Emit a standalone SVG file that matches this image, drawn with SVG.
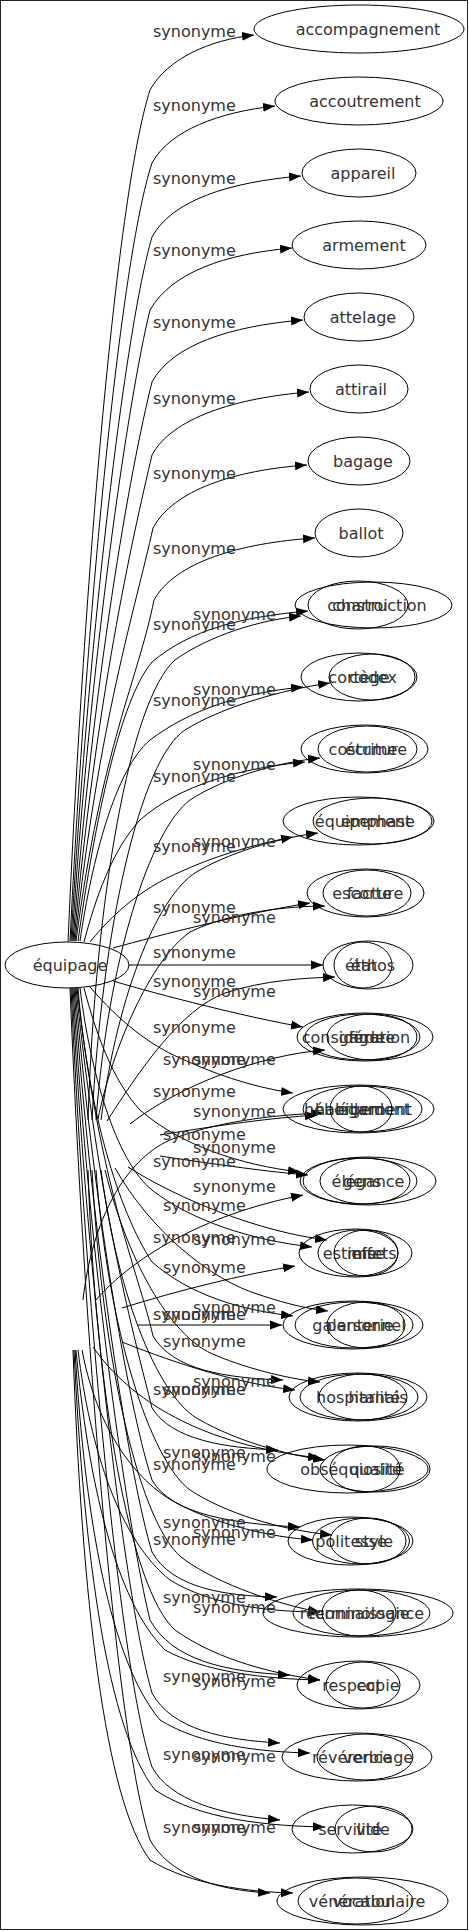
<svg xmlns="http://www.w3.org/2000/svg" width="469" height="1931" viewBox="0 0 469 1931">
<style>
text{font-family:"DejaVu Sans",sans-serif;font-size:16px;fill:#333}
.n ellipse{fill:none;stroke:#000;stroke-width:1}
.n text{text-anchor:middle}
.e path{fill:none;stroke:#000;stroke-width:1;marker-end:url(#a)}
.l text{text-anchor:start}
</style>
<defs>
<marker id="a" markerWidth="13" markerHeight="10" refX="12" refY="5" orient="auto" markerUnits="userSpaceOnUse"><path d="M0,0.5 L12,5 L0,9.5 z" fill="#000"/></marker>
</defs>
<rect x="0" y="0" width="469" height="1931" fill="#fff"/>
<rect x="0.5" y="0.5" width="467" height="1929" fill="none" stroke="#222"/>
<g id="connectors" class="e">
<path d="M68,942 C83,600 115,200 150,90 C168,58 210,40 254,35"/>
<path d="M70,941 C86,620 120,260 152,163 C170,130 220,112 275,106"/>
<path d="M71,941 C88,640 125,330 152,237 C172,200 230,182 301,176"/>
<path d="M72,941 C90,660 128,400 150,310 C172,272 225,254 292,248"/>
<path d="M73,941 C93,680 130,470 152,382 C172,345 230,326 303,320"/>
<path d="M74,941 C96,700 132,540 152,455 C172,418 235,398 309,392"/>
<path d="M75,941 C99,720 135,610 153,528 C173,490 235,470 307,465"/>
<path d="M76,941 C102,745 138,680 154,600 C175,562 240,543 315,538"/>
<path d="M78,941 C95,820 120,700 152,662 C190,630 240,617 308,611"/>
<path d="M80,941 C92,860 115,770 150,740 C190,710 240,693 303,687"/>
<path d="M84,942 C95,900 112,850 140,820 C180,785 240,768 305,762"/>
<path d="M90,942 C120,905 150,885 180,872 C210,858 250,845 293,837"/>
<path d="M113,948 C160,935 250,912 310,903"/>
<path d="M129,965 L323,965"/>
<path d="M113,981 C160,995 250,1018 303,1027"/>
<path d="M90,987 C120,1022 150,1045 180,1058 C210,1072 250,1087 293,1093"/>
<path d="M84,988 C95,1030 112,1080 140,1110 C180,1145 240,1165 300,1172"/>
<path d="M80,988 C90,1070 115,1160 152,1190 C190,1220 250,1240 312,1247"/>
<path d="M78,988 C88,1110 118,1210 152,1262 C190,1295 240,1310 293,1316"/>
<path d="M77,988 C100,1190 138,1270 153,1336 C173,1370 225,1378 283,1380"/>
<path d="M76,988 C99,1210 135,1340 152,1408 C172,1440 225,1448 278,1450"/>
<path d="M75,988 C96,1230 132,1420 152,1480 C172,1515 235,1524 300,1527"/>
<path d="M74,988 C93,1250 130,1480 152,1552 C172,1588 225,1596 277,1597"/>
<path d="M73,988 C90,1270 128,1530 150,1620 C172,1660 225,1672 290,1675"/>
<path d="M72,988 C88,1290 125,1600 152,1693 C172,1730 225,1740 280,1743"/>
<path d="M71,988 C86,1310 120,1670 152,1767 C170,1800 220,1815 280,1820"/>
<path d="M70,988 C84,1330 115,1730 150,1840 C168,1872 210,1890 270,1893"/>
<path d="M83,1300 C92,1220 125,1160 170,1140 C215,1122 270,1115 323,1113"/>
<path d="M95,1301 C130,1260 200,1215 303,1195"/>
<path d="M122,1308 C180,1290 240,1275 295,1266"/>
<path d="M138,1325 L282,1325"/>
<path d="M122,1342 C180,1365 240,1384 295,1390"/>
<path d="M93,1347 C130,1400 200,1445 320,1458"/>
<path d="M82,1350 C95,1420 130,1480 180,1505 C220,1525 270,1537 313,1540"/>
<path d="M78,1350 C90,1450 120,1540 170,1580 C210,1605 270,1612 320,1612"/>
<path d="M76,1350 C88,1480 115,1600 165,1650 C205,1672 265,1679 320,1680"/>
<path d="M75,1350 C85,1520 110,1660 160,1720 C200,1745 260,1752 310,1753"/>
<path d="M74,1350 C84,1560 108,1730 155,1790 C200,1820 270,1826 325,1827"/>
<path d="M73,1350 C82,1600 105,1800 150,1860 C190,1885 250,1892 293,1893"/>
<path d="M88,1120 C95,900 130,700 175,660 C210,635 260,620 301,616"/>
<path d="M92,1120 C102,930 140,760 185,730 C220,708 280,690 330,683"/>
<path d="M96,1120 C108,960 150,830 190,800 C225,777 280,762 320,758"/>
<path d="M101,1120 C118,990 160,890 200,870 C235,850 285,837 318,833"/>
<path d="M98,1119 C112,1050 150,960 190,932 C230,912 290,906 325,906"/>
<path d="M107,1121 C140,1070 180,1010 225,993 C265,980 305,978 335,977"/>
<path d="M130,1124 C180,1085 260,1055 325,1050"/>
<path d="M160,1135 C220,1125 270,1118 317,1115"/>
<path d="M160,1156 C220,1165 270,1172 308,1175"/>
<path d="M128,1167 C180,1200 260,1232 327,1240"/>
<path d="M115,1168 C150,1230 210,1280 260,1295 C290,1305 310,1309 328,1311"/>
<path d="M105,1170 C130,1270 175,1340 215,1355 C250,1370 295,1380 320,1382"/>
<path d="M101,1170 C118,1300 160,1400 200,1420 C235,1440 285,1455 325,1460"/>
<path d="M96,1170 C108,1330 150,1460 190,1490 C225,1513 280,1530 332,1535"/>
<path d="M92,1170 C102,1360 140,1530 185,1560 C220,1585 280,1605 320,1612"/>
<path d="M88,1170 C95,1390 130,1590 175,1630 C210,1655 260,1672 320,1680"/>
</g>
<g id="labels" class="l">
<text x="153" y="37">synonyme</text>
<text x="153" y="111">synonyme</text>
<text x="153" y="184">synonyme</text>
<text x="153" y="256">synonyme</text>
<text x="153" y="328">synonyme</text>
<text x="153" y="404">synonyme</text>
<text x="153" y="479">synonyme</text>
<text x="153" y="554">synonyme</text>
<text x="153" y="630">synonyme</text>
<text x="153" y="706">synonyme</text>
<text x="153" y="782">synonyme</text>
<text x="153" y="852">synonyme</text>
<text x="153" y="913">synonyme</text>
<text x="153" y="958">synonyme</text>
<text x="153" y="987">synonyme</text>
<text x="153" y="1033">synonyme</text>
<text x="153" y="1097">synonyme</text>
<text x="153" y="1167">synonyme</text>
<text x="153" y="1243">synonyme</text>
<text x="153" y="1320">synonyme</text>
<text x="153" y="1395">synonyme</text>
<text x="153" y="1470">synonyme</text>
<text x="153" y="1545">synonyme</text>
<text x="193" y="620">synonyme</text>
<text x="193" y="695">synonyme</text>
<text x="193" y="770">synonyme</text>
<text x="193" y="847">synonyme</text>
<text x="193" y="923">synonyme</text>
<text x="193" y="997">synonyme</text>
<text x="193" y="1065">synonyme</text>
<text x="193" y="1117">synonyme</text>
<text x="193" y="1153">synonyme</text>
<text x="193" y="1192">synonyme</text>
<text x="193" y="1245">synonyme</text>
<text x="193" y="1313">synonyme</text>
<text x="193" y="1387">synonyme</text>
<text x="193" y="1462">synonyme</text>
<text x="193" y="1538">synonyme</text>
<text x="193" y="1613">synonyme</text>
<text x="193" y="1687">synonyme</text>
<text x="193" y="1762">synonyme</text>
<text x="193" y="1833">synonyme</text>
<text x="163" y="1065">synonyme</text>
<text x="163" y="1140">synonyme</text>
<text x="163" y="1211">synonyme</text>
<text x="163" y="1273">synonyme</text>
<text x="163" y="1320">synonyme</text>
<text x="163" y="1347">synonyme</text>
<text x="163" y="1395">synonyme</text>
<text x="163" y="1458">synonyme</text>
<text x="163" y="1528">synonyme</text>
<text x="163" y="1603">synonyme</text>
<text x="163" y="1682">synonyme</text>
<text x="163" y="1760">synonyme</text>
<text x="163" y="1833">synonyme</text>
</g>
<g id="n-equipage" class="n"><ellipse cx="67" cy="965" rx="62" ry="23"/><text x="70" y="971">équipage</text></g>
<g id="n-accompagnement" class="n"><ellipse cx="359" cy="29" rx="105" ry="24"/><text x="368" y="35">accompagnement</text></g>
<g id="n-accoutrement" class="n"><ellipse cx="359" cy="101" rx="84" ry="24"/><text x="365" y="107">accoutrement</text></g>
<g id="n-appareil" class="n"><ellipse cx="359" cy="173" rx="57" ry="24"/><text x="363" y="179">appareil</text></g>
<g id="n-armement" class="n"><ellipse cx="359" cy="245" rx="67" ry="24"/><text x="364" y="251">armement</text></g>
<g id="n-attelage" class="n"><ellipse cx="359" cy="317" rx="55" ry="24"/><text x="363" y="323">attelage</text></g>
<g id="n-attirail" class="n"><ellipse cx="359" cy="389" rx="49" ry="24"/><text x="361" y="395">attirail</text></g>
<g id="n-bagage" class="n"><ellipse cx="359" cy="461" rx="51" ry="24"/><text x="363" y="467">bagage</text></g>
<g id="n-ballot" class="n"><ellipse cx="359" cy="533" rx="44" ry="24"/><text x="361" y="539">ballot</text></g>
<g id="n-construction" class="n"><ellipse cx="373.5" cy="605" rx="78.5" ry="23"/><text x="377" y="611">construction</text></g>
<g id="n-charroi" class="n"><ellipse cx="358" cy="605" rx="50" ry="24"/><text x="360" y="611">charroi</text></g>
<g id="n-cortege" class="n"><ellipse cx="359" cy="677" rx="58" ry="24"/><text x="359" y="683">cortège</text></g>
<g id="n-codex" class="n"><ellipse cx="372" cy="677" rx="43" ry="23"/><text x="373" y="683">codex</text></g>
<g id="n-costume" class="n"><ellipse cx="364.5" cy="749" rx="63.5" ry="24"/><text x="363" y="755">costume</text></g>
<g id="n-ecriture" class="n"><ellipse cx="367.5" cy="749" rx="49.5" ry="23"/><text x="376" y="755">écriture</text></g>
<g id="n-equipement" class="n"><ellipse cx="358.5" cy="821" rx="75.5" ry="24"/><text x="363" y="827">équipement</text></g>
<g id="n-emphase" class="n"><ellipse cx="372.5" cy="821" rx="59.5" ry="23"/><text x="378" y="827">emphase</text></g>
<g id="n-escorte" class="n"><ellipse cx="365.5" cy="893" rx="58.5" ry="24"/><text x="362" y="899">escorte</text></g>
<g id="n-facture" class="n"><ellipse cx="367" cy="893" rx="44" ry="23"/><text x="375" y="899">facture</text></g>
<g id="n-etat" class="n"><ellipse cx="368" cy="965" rx="45" ry="24"/><text x="361" y="971">état</text></g>
<g id="n-ethos" class="n"><ellipse cx="363" cy="965" rx="29" ry="23"/><text x="373" y="971">éthos</text></g>
<g id="n-consideration" class="n"><ellipse cx="365" cy="1037" rx="68" ry="24"/><text x="356" y="1043">considération</text></g>
<g id="n-garde" class="n"><ellipse cx="362.5" cy="1037" rx="57.5" ry="23"/><text x="362" y="1043">garde</text></g>
<g id="n-figure" class="n"><ellipse cx="372" cy="1037" rx="45" ry="23"/><text x="372" y="1043">figure</text></g>
<g id="n-hebergement" class="n"><ellipse cx="358.5" cy="1109" rx="75.5" ry="24"/><text x="358" y="1115">hébergement</text></g>
<g id="n-habillement" class="n"><ellipse cx="362.5" cy="1109" rx="59.5" ry="23"/><text x="362.5" y="1115">habillement</text></g>
<g id="n-egard" class="n"><ellipse cx="361" cy="1109" rx="31" ry="23"/><text x="361" y="1115">égard</text></g>
<g id="n-gens" class="n"><ellipse cx="368" cy="1181" rx="68" ry="24"/><text x="362" y="1187">gens</text></g>
<g id="n-elegance" class="n"><ellipse cx="360" cy="1181" rx="57" ry="23"/><text x="368" y="1187">élégance</text></g>
<g id="n-n1181c" class="n"><ellipse cx="365" cy="1181" rx="45" ry="23"/></g>
<g id="n-estime" class="n"><ellipse cx="355.5" cy="1253" rx="56.5" ry="24"/><text x="350" y="1259">estime</text></g>
<g id="n-mise" class="n"><ellipse cx="358" cy="1253" rx="40" ry="23"/><text x="366" y="1259">mise</text></g>
<g id="n-effets" class="n"><ellipse cx="366" cy="1253" rx="32" ry="23"/><text x="374" y="1259">effets</text></g>
<g id="n-galanterie" class="n"><ellipse cx="353" cy="1325" rx="70" ry="24"/><text x="353" y="1331">galanterie</text></g>
<g id="n-n1325b" class="n"><ellipse cx="354" cy="1325" rx="59" ry="23"/></g>
<g id="n-personnel" class="n"><ellipse cx="366" cy="1325" rx="39" ry="23"/><text x="366" y="1331">personnel</text></g>
<g id="n-hospitalite" class="n"><ellipse cx="358" cy="1397" rx="69" ry="24"/><text x="358" y="1403">hospitalité</text></g>
<g id="n-harnais" class="n"><ellipse cx="359" cy="1397" rx="59" ry="23"/><text x="378" y="1403">harnais</text></g>
<g id="n-n1397c" class="n"><ellipse cx="363" cy="1397" rx="44" ry="23"/></g>
<g id="n-obsequiosite" class="n"><ellipse cx="347.5" cy="1469" rx="80.5" ry="24"/><text x="351" y="1475">obséquiosité</text></g>
<g id="n-qualite" class="n"><ellipse cx="375" cy="1469" rx="55" ry="23"/><text x="377" y="1475">qualité</text></g>
<g id="n-n1469c" class="n"><ellipse cx="365" cy="1469" rx="35" ry="23"/></g>
<g id="n-politesse" class="n"><ellipse cx="350.5" cy="1541" rx="62.5" ry="24"/><text x="351" y="1547">politesse</text></g>
<g id="n-n1541b" class="n"><ellipse cx="361" cy="1541" rx="48.5" ry="23"/></g>
<g id="n-style" class="n"><ellipse cx="368" cy="1541" rx="38" ry="23"/><text x="374" y="1547">style</text></g>
<g id="n-reconnaissance" class="n"><ellipse cx="358" cy="1613" rx="95" ry="24"/><text x="362" y="1619">reconnaissance</text></g>
<g id="n-terminologie" class="n"><ellipse cx="361.5" cy="1613" rx="68.5" ry="23"/><text x="359" y="1619">terminologie</text></g>
<g id="n-n1613c" class="n"><ellipse cx="359" cy="1613" rx="37" ry="23"/></g>
<g id="n-respect" class="n"><ellipse cx="358.5" cy="1685" rx="61.5" ry="24"/><text x="352" y="1691">respect</text></g>
<g id="n-copie" class="n"><ellipse cx="363" cy="1685" rx="37" ry="23"/><text x="378" y="1691">copie</text></g>
<g id="n-reverence" class="n"><ellipse cx="357" cy="1757" rx="75" ry="24"/><text x="352" y="1763">révérence</text></g>
<g id="n-verbiage" class="n"><ellipse cx="365" cy="1757" rx="48" ry="23"/><text x="378" y="1763">verbiage</text></g>
<g id="n-servilite" class="n"><ellipse cx="352.5" cy="1829" rx="60.5" ry="24"/><text x="350" y="1835">servilité</text></g>
<g id="n-vide" class="n"><ellipse cx="373.5" cy="1829" rx="38.5" ry="23"/><text x="373" y="1835">vide</text></g>
<g id="n-veneration" class="n"><ellipse cx="362.5" cy="1901" rx="85.5" ry="24"/><text x="352" y="1907">vénération</text></g>
<g id="n-vocabulaire" class="n"><ellipse cx="355.5" cy="1901" rx="57.5" ry="23"/><text x="379" y="1907">vocabulaire</text></g>
</svg>
